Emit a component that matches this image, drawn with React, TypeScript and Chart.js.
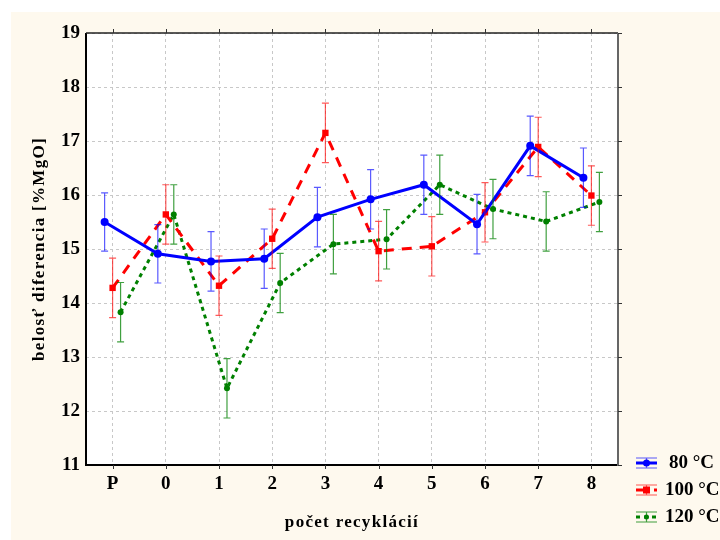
import { useEffect, useRef } from 'react';
import { Chart, registerables } from 'chart.js';
Chart.register(...registerables);

const categories = ['P', '0', '1', '2', '3', '4', '5', '6', '7', '8'];
const seriesLabels = ['80 °C', '100 °C', '120 °C'];
const values80 = [15.5, 14.91, 14.77, 14.82, 15.59, 15.92, 16.19, 15.46, 16.91, 16.32];
const errors80 = [0.54, 0.54, 0.55, 0.55, 0.55, 0.55, 0.55, 0.55, 0.55, 0.55];
const values100 = [14.28, 15.64, 14.32, 15.19, 17.15, 14.96, 15.05, 15.68, 16.89, 15.99];
const errors100 = [0.55, 0.55, 0.55, 0.55, 0.55, 0.55, 0.55, 0.55, 0.55, 0.55];
const values120 = [13.83, 15.64, 12.42, 14.37, 15.09, 15.18, 16.19, 15.74, 15.51, 15.87];
const errors120 = [0.55, 0.55, 0.55, 0.55, 0.55, 0.55, 0.55, 0.55, 0.55, 0.55];
const yTicks = [11, 12, 13, 14, 15, 16, 17, 18, 19];
const xTitle = 'počet recyklácií';
const yTitle = 'belosť diferencia [%MgO]';

const FONT = '"Liberation Serif", "Times New Roman", serif';
const CREAM = '#fef9ee';
const offsets = [-0.15, 0, 0.15];
const colors = ['#0000ff', '#ff0000', '#008000'];
const errColors = ['rgba(0,0,255,0.65)', 'rgba(255,0,0,0.65)', 'rgba(0,128,0,0.75)'];
const dashes = [[], [10, 8], [4, 4]];
const markers = ['circle', 'rect', 'circle'];
const radii = [4, 4.5, 3];

export default function App() {
  const ref = useRef<HTMLCanvasElement>(null);
  useEffect(() => {
    document.body.style.margin = '0';
    const canvas = ref.current!;
    const allVals = [values80, values100, values120];
    const allErr = [errors80, errors100, errors120];

    const bgPlugin = {
      id: 'bgPlugin',
      beforeDraw(chart: any) {
        const c = chart.ctx;
        const a = chart.chartArea;
        c.save();
        c.fillStyle = '#ffffff';
        c.fillRect(0, 0, 720, 540);
        c.fillStyle = CREAM;
        c.fillRect(11, 12, 709, 528);
        c.fillStyle = '#ffffff';
        c.fillRect(a.left, a.top, a.right - a.left, a.bottom - a.top);
        c.restore();
      },
    };

    const errPlugin = {
      id: 'errPlugin',
      afterDatasetsDraw(chart: any) {
        const c = chart.ctx;
        const xs = chart.scales.x;
        const ys = chart.scales.y;
        c.save();
        allVals.forEach((vals, d) => {
          c.strokeStyle = errColors[d];
          c.lineWidth = 1.2;
          vals.forEach((v, i) => {
            const px = xs.getPixelForValue(i + offsets[d]);
            const t = ys.getPixelForValue(v + allErr[d][i]);
            const b = ys.getPixelForValue(v - allErr[d][i]);
            c.beginPath();
            c.moveTo(px, t);
            c.lineTo(px, b);
            c.moveTo(px - 3.5, t);
            c.lineTo(px + 3.5, t);
            c.moveTo(px - 3.5, b);
            c.lineTo(px + 3.5, b);
            c.stroke();
          });
        });
        c.restore();
      },
    };

    const framePlugin = {
      id: 'framePlugin',
      afterDraw(chart: any) {
        const c = chart.ctx;
        const a = chart.chartArea;
        const xs = chart.scales.x;
        const ys = chart.scales.y;
        c.save();
        // frame
        c.lineWidth = 2;
        c.strokeStyle = '#000000';
        c.beginPath();
        c.moveTo(a.left, a.top);
        c.lineTo(a.left, a.bottom);
        c.lineTo(a.right, a.bottom);
        c.stroke();
        c.lineWidth = 1.5;
        c.strokeStyle = '#222222';
        c.beginPath();
        c.moveTo(a.left, a.top);
        c.lineTo(a.right, a.top);
        c.stroke();
        c.lineWidth = 2;
        c.strokeStyle = '#666666';
        c.beginPath();
        c.moveTo(a.right, a.top);
        c.lineTo(a.right, a.bottom + 1);
        c.stroke();
        // ticks
        c.lineWidth = 1;
        c.strokeStyle = '#333333';
        categories.forEach((_, i) => {
          const px = Math.round(xs.getPixelForValue(i)) + 0.5;
          c.beginPath();
          c.moveTo(px, a.top);
          c.lineTo(px, a.top - 4);
          c.moveTo(px, a.bottom);
          c.lineTo(px, a.bottom + 4);
          c.stroke();
        });
        yTicks.forEach((v) => {
          const py = Math.round(ys.getPixelForValue(v)) + 0.5;
          c.beginPath();
          c.moveTo(a.right, py);
          c.lineTo(a.right + 4, py);
          c.stroke();
        });
        // titles
        c.fillStyle = '#000000';
        c.font = `bold 17px ${FONT}`;
        (c as any).letterSpacing = '1.3px';
        c.textAlign = 'center';
        c.textBaseline = 'middle';
        c.fillText(xTitle, (a.left + a.right) / 2, 523);
        c.save();
        c.translate(40, (a.top + a.bottom) / 2);
        c.rotate(-Math.PI / 2);
        c.fillText(yTitle, 0, 0);
        c.restore();
        (c as any).letterSpacing = '0px';
        // legend
        const ly = [463, 490, 517];
        seriesLabels.forEach((lab, d) => {
          const y = ly[d];
          c.strokeStyle = errColors[d];
          c.lineWidth = 1.2;
          c.setLineDash([]);
          c.beginPath();
          c.moveTo(636, y - 5);
          c.lineTo(657, y - 5);
          c.moveTo(636, y + 5);
          c.lineTo(657, y + 5);
          c.moveTo(646.5, y - 5);
          c.lineTo(646.5, y + 5);
          c.stroke();
          c.strokeStyle = colors[d];
          c.lineWidth = 3;
          c.setLineDash(dashes[d]);
          c.beginPath();
          c.moveTo(636, y);
          c.lineTo(657, y);
          c.stroke();
          c.setLineDash([]);
          c.fillStyle = colors[d];
          if (markers[d] === 'rect') {
            c.fillRect(643, y - 3.5, 7, 7);
          } else {
            c.beginPath();
            c.arc(646.5, y, radii[d] - 0.5, 0, Math.PI * 2);
            c.fill();
          }
          c.fillStyle = '#000000';
          c.font = `bold 19px ${FONT}`;
          c.textAlign = 'left';
          c.textBaseline = 'middle';
          c.fillText(lab, d === 0 ? 669 : 665, y);
        });
        c.restore();
      },
    };

    const chart = new Chart(canvas, {
      type: 'line',
      data: {
        datasets: allVals.map((vals, d) => ({
          label: seriesLabels[d],
          data: vals.map((y, i) => ({ x: i + offsets[d], y })),
          borderColor: colors[d],
          backgroundColor: colors[d],
          borderWidth: 3,
          borderDash: dashes[d],
          pointStyle: markers[d] as any,
          pointRadius: radii[d],
          pointBorderWidth: 0,
          pointBackgroundColor: colors[d],
          tension: 0,
          fill: false,
        })),
      },
      plugins: [bgPlugin, errPlugin, framePlugin],
      options: {
        responsive: false,
        animation: false,
        events: [],
        layout: { padding: { left: 0, top: 33, right: 102, bottom: 0 } },
        plugins: { legend: { display: false }, tooltip: { enabled: false } },
        scales: {
          x: {
            type: 'linear',
            min: -0.5,
            max: 9.5,
            afterBuildTicks: (s: any) => {
              s.ticks = categories.map((_, i) => ({ value: i }));
            },
            afterFit: (s: any) => {
              s.height = 75;
            },
            ticks: {
              autoSkip: false,
              maxRotation: 0,
              padding: 8,
              color: '#000000',
              font: { family: FONT, size: 19, weight: 'bold' },
              callback: (v: any) => categories[Math.round(Number(v))] ?? '',
            },
            grid: { color: '#c8c8c8', lineWidth: 1, drawTicks: false },
            border: { display: false, dash: [3, 3] },
          },
          y: {
            type: 'linear',
            min: 11,
            max: 19,
            afterBuildTicks: (s: any) => {
              s.ticks = yTicks.map((v) => ({ value: v }));
            },
            afterFit: (s: any) => {
              s.width = 86;
            },
            ticks: {
              padding: 6,
              color: '#000000',
              font: { family: FONT, size: 19, weight: 'bold' },
            },
            grid: { color: '#c8c8c8', lineWidth: 1, drawTicks: false },
            border: { display: false, dash: [3, 3] },
          },
        },
      } as any,
    });
    return () => chart.destroy();
  }, []);
  return (
    <div style={{ position: 'absolute', left: 0, top: 0, width: 720, height: 540 }}>
      <canvas ref={ref} width={720} height={540} style={{ display: 'block', width: 720, height: 540 }} />
    </div>
  );
}
